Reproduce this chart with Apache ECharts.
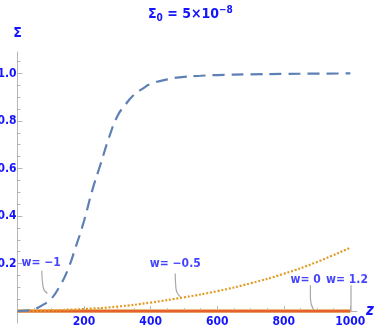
<!DOCTYPE html>
<html>
<head>
<meta charset="utf-8">
<script src="https://cdn.jsdelivr.net/npm/echarts@6/dist/echarts.min.js"></script>
<style>
  html, body { margin: 0; padding: 0; background: #fff; }
  #chart { width: 374px; height: 332px; }
</style>
</head>
<body>
<div id="chart"></div>
<script>
// curve w = -1 (dashed blue)
const zW1 = [0, 25, 50, 75, 100, 125, 150, 175, 200, 225, 250, 275, 300, 325, 350, 375, 400, 450, 500, 550, 600, 700, 800, 900, 1000];
const sigmaW1 = [0, 0.002, 0.008, 0.025, 0.05, 0.10, 0.17, 0.27, 0.38, 0.51, 0.62, 0.73, 0.82, 0.87, 0.91, 0.935, 0.955, 0.975, 0.985, 0.99, 0.993, 0.996, 0.998, 0.999, 1.0];
// curve w = -0.5 (dotted orange)
const zW05 = [0, 100, 200, 300, 400, 500, 600, 700, 800, 900, 1000];
const sigmaW05 = [0, 0.003, 0.009, 0.019, 0.036, 0.058, 0.084, 0.117, 0.157, 0.207, 0.267];
// curves w = 0 and w = 1.2 stay on zero
const zFlat = [0, 250, 500, 750, 1000];
const sigmaW0 = [0, 0, 0, 0, 0];
const sigmaW12 = [0, 0, 0, 0, 0];

// ticks
const xLabels = [200, 400, 600, 800, 1000];
const xMajor = [0, 200, 400, 600, 800, 1000];
const xMinor = [50, 100, 150, 250, 300, 350, 450, 500, 550, 650, 700, 750, 850, 900, 950];
const yLabels = [0.2, 0.4, 0.6, 0.8, 1.0];
const yMinor = [0.05, 0.1, 0.15, 0.25, 0.3, 0.35, 0.45, 0.5, 0.55, 0.65, 0.7, 0.75, 0.85, 0.9, 0.95, 1.05];

// curve annotations
const labelTexts = ["w= \u22121", "w= \u22120.5", "w= 0", "w= 1.2"];
const labelAt = [[71, 0.202], [474, 0.2], [866, 0.13], [990, 0.13]];
const callouts = [
  [[73, 0.17], [77, 0.10], [90, 0.074]],
  [[474, 0.158], [476, 0.095], [489, 0.06]],
  [[880, 0.109], [880, 0.053], [890, 0.004]],
  [[1002, 0.109], [1002, 0]]
];

const BLUE_TEXT = "#1414ff";
const FONT = "'Liberation Sans Narrow', 'Noto Sans Condensed', 'DejaVu Sans Condensed', sans-serif";
const AXIS_GREY = "#b4b4b4";

function pairs(xs, ys) {
  return xs.map((x, i) => [x, ys[i]]);
}

const chart = echarts.init(document.getElementById("chart"), null, { renderer: "canvas" });

const calloutSeries = callouts.map(pts => ({
  type: "line",
  data: pts,
  smooth: 0.5,
  symbol: "none",
  silent: true,
  z: 5,
  lineStyle: { color: "#a8a8a8", width: 1.2 }
}));

const titleFont = { color: BLUE_TEXT, fontFamily: FONT, fontWeight: "bold", fontSize: 14 };
const labelFont = { color: BLUE_TEXT, fontFamily: FONT, fontWeight: "bold", fontSize: 12 };

const option = {
  animation: false,
  title: {
    text: "{m|\u03a3}{sub|0}{m| = 5\u00d710}{sup|\u22128}",
    left: 143,
    top: 0,
    textStyle: {
      rich: {
        m: titleFont,
        sub: Object.assign({}, titleFont, { fontSize: 10, padding: [8, 0, 0, 0] }),
        sup: Object.assign({}, titleFont, { fontSize: 10, padding: [0, 0, 8, 0] })
      }
    }
  },
  grid: { left: 17.5, right: 17, top: 52, bottom: 9, outerBoundsMode: "none" },
  xAxis: [
    {
      type: "value",
      min: 0,
      max: 1020,
      name: "z",
      nameLocation: "end",
      nameGap: 9,
      nameMoveOverlap: false,
      nameTextStyle: { color: BLUE_TEXT, fontFamily: FONT, fontWeight: "bold", fontStyle: "italic", fontSize: 15 },
      axisLine: { onZero: true, lineStyle: { color: AXIS_GREY, width: 1 } },
      axisTick: { show: true, inside: true, length: 5, customValues: xMajor, lineStyle: { color: AXIS_GREY } },
      axisLabel: Object.assign({
        customValues: xLabels,
        margin: -7,
        formatter: v => String(v)
      }, labelFont),
      splitLine: { show: false }
    },
    {
      type: "value",
      min: 0,
      max: 1020,
      position: "bottom",
      axisLine: { show: false, onZero: true },
      axisTick: { show: true, inside: true, length: 3, customValues: xMinor, lineStyle: { color: AXIS_GREY } },
      axisLabel: { show: false },
      splitLine: { show: false }
    }
  ],
  yAxis: [
    {
      type: "value",
      min: -0.05,
      max: 1.09,
      name: "\u03a3",
      nameLocation: "end",
      nameGap: 12,
      nameTextStyle: { color: BLUE_TEXT, fontFamily: FONT, fontWeight: "bold", fontSize: 14, align: "center" },
      axisLine: { show: true, lineStyle: { color: AXIS_GREY, width: 1 } },
      axisTick: { show: true, inside: true, length: 5, customValues: yLabels, lineStyle: { color: AXIS_GREY } },
      axisLabel: Object.assign({
        customValues: yLabels,
        margin: 1,
        formatter: v => v.toFixed(1)
      }, labelFont),
      splitLine: { show: false }
    },
    {
      type: "value",
      min: -0.05,
      max: 1.09,
      position: "left",
      axisLine: { show: false },
      axisTick: { show: true, inside: true, length: 3, customValues: yMinor, lineStyle: { color: AXIS_GREY } },
      axisLabel: { show: false },
      splitLine: { show: false }
    }
  ],
  series: [
    {
      name: "w = 0",
      type: "line",
      data: pairs(zFlat, sigmaW0),
      symbol: "none",
      z: 2,
      lineStyle: { color: "#e6dca0", width: 4 }
    },
    {
      name: "w = 1.2",
      type: "line",
      data: pairs(zFlat, sigmaW12),
      symbol: "none",
      z: 3,
      lineStyle: { color: "#e8602e", width: 2.6 }
    },
    {
      name: "w = -0.5",
      type: "line",
      data: pairs(zW05, sigmaW05),
      smooth: true,
      symbol: "none",
      z: 4,
      lineStyle: { color: "#e19c24", width: 2.2, type: [2, 1.8] }
    },
    {
      name: "w = -1",
      type: "line",
      data: pairs(zW1, sigmaW1),
      smooth: true,
      symbol: "none",
      z: 4,
      lineStyle: { color: "#5e81b5", width: 2.2, type: [12, 7] }
    },
    ...calloutSeries,
    {
      type: "scatter",
      data: labelAt.map((p, i) => ({ value: p, name: labelTexts[i] })),
      symbolSize: 1,
      itemStyle: { color: "rgba(0,0,0,0)" },
      silent: true,
      z: 6,
      label: Object.assign({
        show: true,
        position: "inside",
        formatter: "{b}"
      }, labelFont)
    }
  ]
};

chart.setOption(option);
</script>
</body>
</html>
